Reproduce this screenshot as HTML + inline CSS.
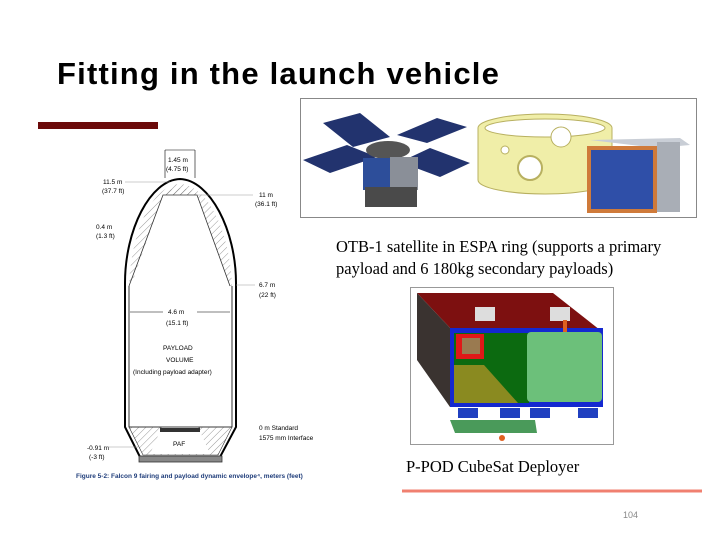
<!DOCTYPE html>
<html><head><meta charset="utf-8"><style>
body{margin:0;background:#fff}
#slide{position:relative;width:720px;height:540px;overflow:hidden;background:#fff;font-family:"Liberation Sans",sans-serif}
.t{position:absolute;white-space:nowrap}
</style></head><body>
<div id="slide">
<div class="t" style="left:57px;top:56px;font-size:31px;font-weight:bold;color:#000;letter-spacing:1.2px">Fitting in the launch vehicle</div>
<div style="position:absolute;left:38px;top:122px;width:120px;height:7px;background:#6b0a0a"></div>

<svg width="720" height="540" style="position:absolute;left:0;top:0" font-family="Liberation Sans, sans-serif">
<defs><pattern id="h" width="5" height="5" patternUnits="userSpaceOnUse" patternTransform="rotate(45)"><line x1="0" y1="0" x2="0" y2="5" stroke="#555" stroke-width="0.6"/></pattern></defs>
<g>
<path d="M125,283 C125,230 150,180 180,179 C210,180 236,230 236,283 L236,427 L220,457 L140,457 L125,427 Z" fill="none" stroke="#000" stroke-width="2"/>
<path d="M129,286 C131,232 152,185 180,184 C208,185 230,232 232,286 Z" fill="url(#h)" stroke="none"/>
<path d="M131,286 L163,195 L197,195 L230,286 Z" fill="#fff"/>
<path d="M163,195 L197,195 C192,186 168,186 163,195Z" fill="url(#h)"/>
<path d="M129,286 L163,195 L197,195 L230,286" fill="none" stroke="#333" stroke-width="0.8"/>
<path d="M129,286 L129,427 L232,427 L232,286" fill="none" stroke="#000" stroke-width="0.8"/>
<path d="M129,427 L160,427 L172,437 L188,437 L200,427 L232,427 L218,455 L143,455 Z" fill="url(#h)" stroke="#333" stroke-width="0.6"/>
<path d="M161,429 L199,429 L210,454 L150,454 Z" fill="#fff"/>
<rect x="160" y="428" width="40" height="4" fill="#333"/>
<rect x="139" y="456" width="83" height="6" fill="#888" stroke="#333" stroke-width="0.8"/>
</g>
<g font-size="6.5" fill="#000">
<line x1="165" y1="150" x2="165" y2="178" stroke="#000" stroke-width="0.6"/><line x1="195" y1="150" x2="195" y2="178" stroke="#000" stroke-width="0.6"/>
<line x1="165" y1="150" x2="195" y2="150" stroke="#000" stroke-width="0.6"/>
<text x="168" y="162">1.45 m</text><text x="166" y="171">(4.75 ft)</text>
<text x="103" y="184">11.5 m</text><text x="102" y="193">(37.7 ft)</text><line x1="125" y1="182" x2="170" y2="182" stroke="#999" stroke-width="0.6"/>
<text x="259" y="197">11 m</text><text x="255" y="206">(36.1 ft)</text><line x1="197" y1="195" x2="253" y2="195" stroke="#999" stroke-width="0.6"/>
<text x="96" y="229">0.4 m</text><text x="96" y="238">(1.3 ft)</text>
<text x="259" y="287">6.7 m</text><text x="259" y="297">(22 ft)</text><line x1="236" y1="285" x2="255" y2="285" stroke="#999" stroke-width="0.6"/>
<line x1="130" y1="312" x2="230" y2="312" stroke="#000" stroke-width="0.6"/>
<rect x="163" y="307" width="34" height="10" fill="#fff"/>
<text x="168" y="314">4.6 m</text><text x="166" y="325">(15.1 ft)</text>
<text x="163" y="350">PAYLOAD</text><text x="166" y="362">VOLUME</text><text x="133" y="374">(Including payload adapter)</text>
<text x="259" y="430">0 m Standard</text><text x="259" y="440">1575 mm Interface</text>
<text x="173" y="446">PAF</text>
<text x="87" y="450">-0.91 m</text><text x="89" y="459">(-3 ft)</text><line x1="105" y1="447" x2="138" y2="447" stroke="#999" stroke-width="0.6"/>
<text x="76" y="478" fill="#1f3d7a" font-weight="bold">Figure 5-2: Falcon 9 fairing and payload dynamic envelope⁴, meters (feet)</text>
</g>

<g>
<rect x="300.5" y="98.5" width="396" height="119" fill="#fff" stroke="#888"/>
<polygon points="323,123 360,113 390,137 353,147" fill="#22336e"/>
<polygon points="397,135 437,118 467,127 427,143" fill="#22336e"/>
<polygon points="303,160 347,145 377,157 330,173" fill="#22336e"/>
<polygon points="400,162 430,148 470,163 440,177" fill="#22336e"/>
<ellipse cx="388" cy="150" rx="22" ry="9" fill="#555"/>
<rect x="363" y="158" width="27" height="32" fill="#2d4e9a"/>
<rect x="390" y="157" width="28" height="33" fill="#8a8f98"/>
<rect x="365" y="187" width="52" height="20" fill="#4a4a4a"/>
<path d="M478,128 A67,14 0 0 1 612,128 L612,180 A67,14 0 0 1 478,180 Z" fill="#f0eea8" stroke="#b8b060"/>
<ellipse cx="545" cy="128" rx="60" ry="9" fill="#fff" stroke="#b8b060"/>
<circle cx="530" cy="168" r="12" fill="#fff" stroke="#b8b060" stroke-width="2"/>
<circle cx="561" cy="137" r="10" fill="#fff" stroke="#b8b060"/>
<circle cx="505" cy="150" r="4" fill="#fff" stroke="#b8b060"/>
<polygon points="590,140 680,138 690,145 657,148" fill="#c9ced6"/>
<rect x="587" y="146" width="70" height="67" fill="#cf7a3a"/>
<rect x="591" y="150" width="62" height="59" fill="#2f4fa8"/>
<rect x="657" y="142" width="23" height="70" fill="#a9aeb6"/>
</g>
<g font-family="Liberation Serif, serif" font-size="16.5" fill="#000">
<text x="336" y="252">OTB-1 satellite in ESPA ring (supports a primary</text>
<text x="336" y="274">payload and 6 180kg secondary payloads)</text>
<text x="406" y="472">P-POD CubeSat Deployer</text>
</g>

<g>
<rect x="410.5" y="287.5" width="203" height="157" fill="#fff" stroke="#999"/>
<polygon points="417,293 553,293 600,330 452,330" fill="#7d1010"/>
<polygon points="417,293 452,330 450,407 417,360" fill="#3a3330"/>
<rect x="450" y="328" width="153" height="79" fill="#1428d0"/>
<rect x="454" y="333" width="75" height="70" fill="#0c6a10"/>
<rect x="456" y="334" width="28" height="25" fill="#e01818"/>
<rect x="462" y="338" width="18" height="16" fill="#9a7a50"/>
<polygon points="454,365 484,365 518,403 454,403" fill="#8a8a20"/>
<rect x="527" y="332" width="75" height="70" rx="4" fill="#6cc07a"/>
<rect x="475" y="307" width="20" height="14" fill="#ddd"/>
<rect x="550" y="307" width="20" height="14" fill="#ddd"/>
<rect x="563" y="320" width="4" height="12" fill="#e06020"/>
<rect x="458" y="408" width="20" height="10" fill="#2040c0"/><rect x="500" y="408" width="20" height="10" fill="#2040c0"/>
<rect x="530" y="408" width="20" height="10" fill="#2040c0"/><rect x="578" y="408" width="20" height="10" fill="#2040c0"/>
<polygon points="450,420 535,420 537,433 455,433" fill="#4a9a5a"/>
<circle cx="502" cy="438" r="3" fill="#e06020"/>
</g>
<line x1="402" y1="491" x2="702" y2="491" stroke="#f08070" stroke-width="3"/>
<text x="623" y="518" font-size="9" fill="#888">104</text>
</svg>
</div>
</body></html>
